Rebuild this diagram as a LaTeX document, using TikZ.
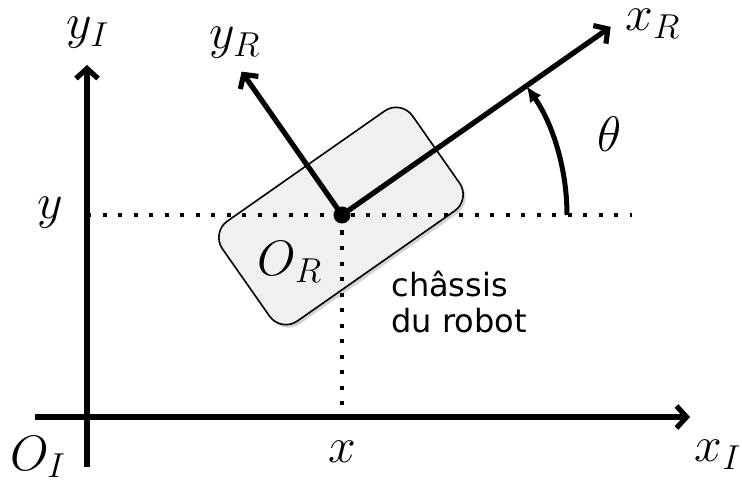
\documentclass[tikz,border=0pt]{standalone}
\usepackage{fontspec}
\newfontfamily\labelfont{DejaVu Sans}
\usetikzlibrary{positioning,arrows.meta,shadows}

\begin{document}
\begin{tikzpicture}[x=0.5pt, y=0.5pt,
      axis/.style={line width=2.6pt, -{Straight Barb[length=5pt,width=11pt]}},
      dotline/.style={line width=2pt, dash pattern=on 2pt off 5.75pt},
      lbl/.style={font=\fontsize{24}{28}\selectfont, inner sep=0pt},
      chassis/.style={draw, line width=0.8pt, fill=black!6, rounded corners=10pt,
        minimum width=116pt, minimum height=61pt, rotate=35,
        drop shadow={shadow xshift=1.2pt, shadow yshift=-1.5pt, opacity=0.35}},
      angarr/.style={line width=2.5pt, -{Latex[length=8pt,width=7pt]}}
    ]
      \useasboundingbox (0,0) rectangle (742,482);
      % reference frame
      \coordinate (O) at (87,65);
      \coordinate (xIstart) at (35,65);
      \coordinate (xIend) at (690,65);
      \coordinate (yIstart) at (87,15);
      \coordinate (yIend) at (87,417);
      % robot
      \node[chassis] (body) at (341,266) {};
      \node[circle, fill, inner sep=0pt, minimum size=8.5pt] (R) at (342,267) {};
      \coordinate (yleft) at (87,267);
      \coordinate (yright) at (632,267);
      \draw[dotline] (yleft) -- (yright);
      \draw[dotline] (R.center) -- (R |- O);
      \draw[axis] (xIstart) -- (xIend);
      \draw[axis] (yIstart) -- (yIend);
      \path (R.center) ++(35:328) coordinate (xRend);
      \path (R.center) ++(125:175) coordinate (yRend);
      \path (R.center) ++(0:225) coordinate (arcstart);
      \draw[axis] (R.center) -- (xRend);
      \draw[axis] (R.center) -- (yRend);
      \draw[angarr] (arcstart) arc[start angle=0, end angle=35, radius=225];
      % labels
      \node[lbl] (lyI) at (88,449) {$y_I$};
      \node[lbl] (lxI) at (718,27) {$x_I$};
      \node[lbl] (lOI) at (38,25) {$O_I$};
      \node[lbl] (lx) at (342,30) {$x$};
      \node[lbl] (ly) at (50,269) {$y$};
      \node[lbl] (lOR) at (290,220) {$O_R$};
      \node[lbl] (lxR) at (653,458) {$x_R$};
      \node[lbl] (lyR) at (235,439) {$y_R$};
      \node[lbl, font=\fontsize{28}{32}\selectfont] (ltheta) at (610,348) {$\theta$};
      \node[font=\labelfont\fontsize{16}{18}\selectfont, align=left,
        anchor=north west, inner sep=0pt] (txt) at (391,211) {châssis\\du robot};
    \end{tikzpicture}
\end{document}
